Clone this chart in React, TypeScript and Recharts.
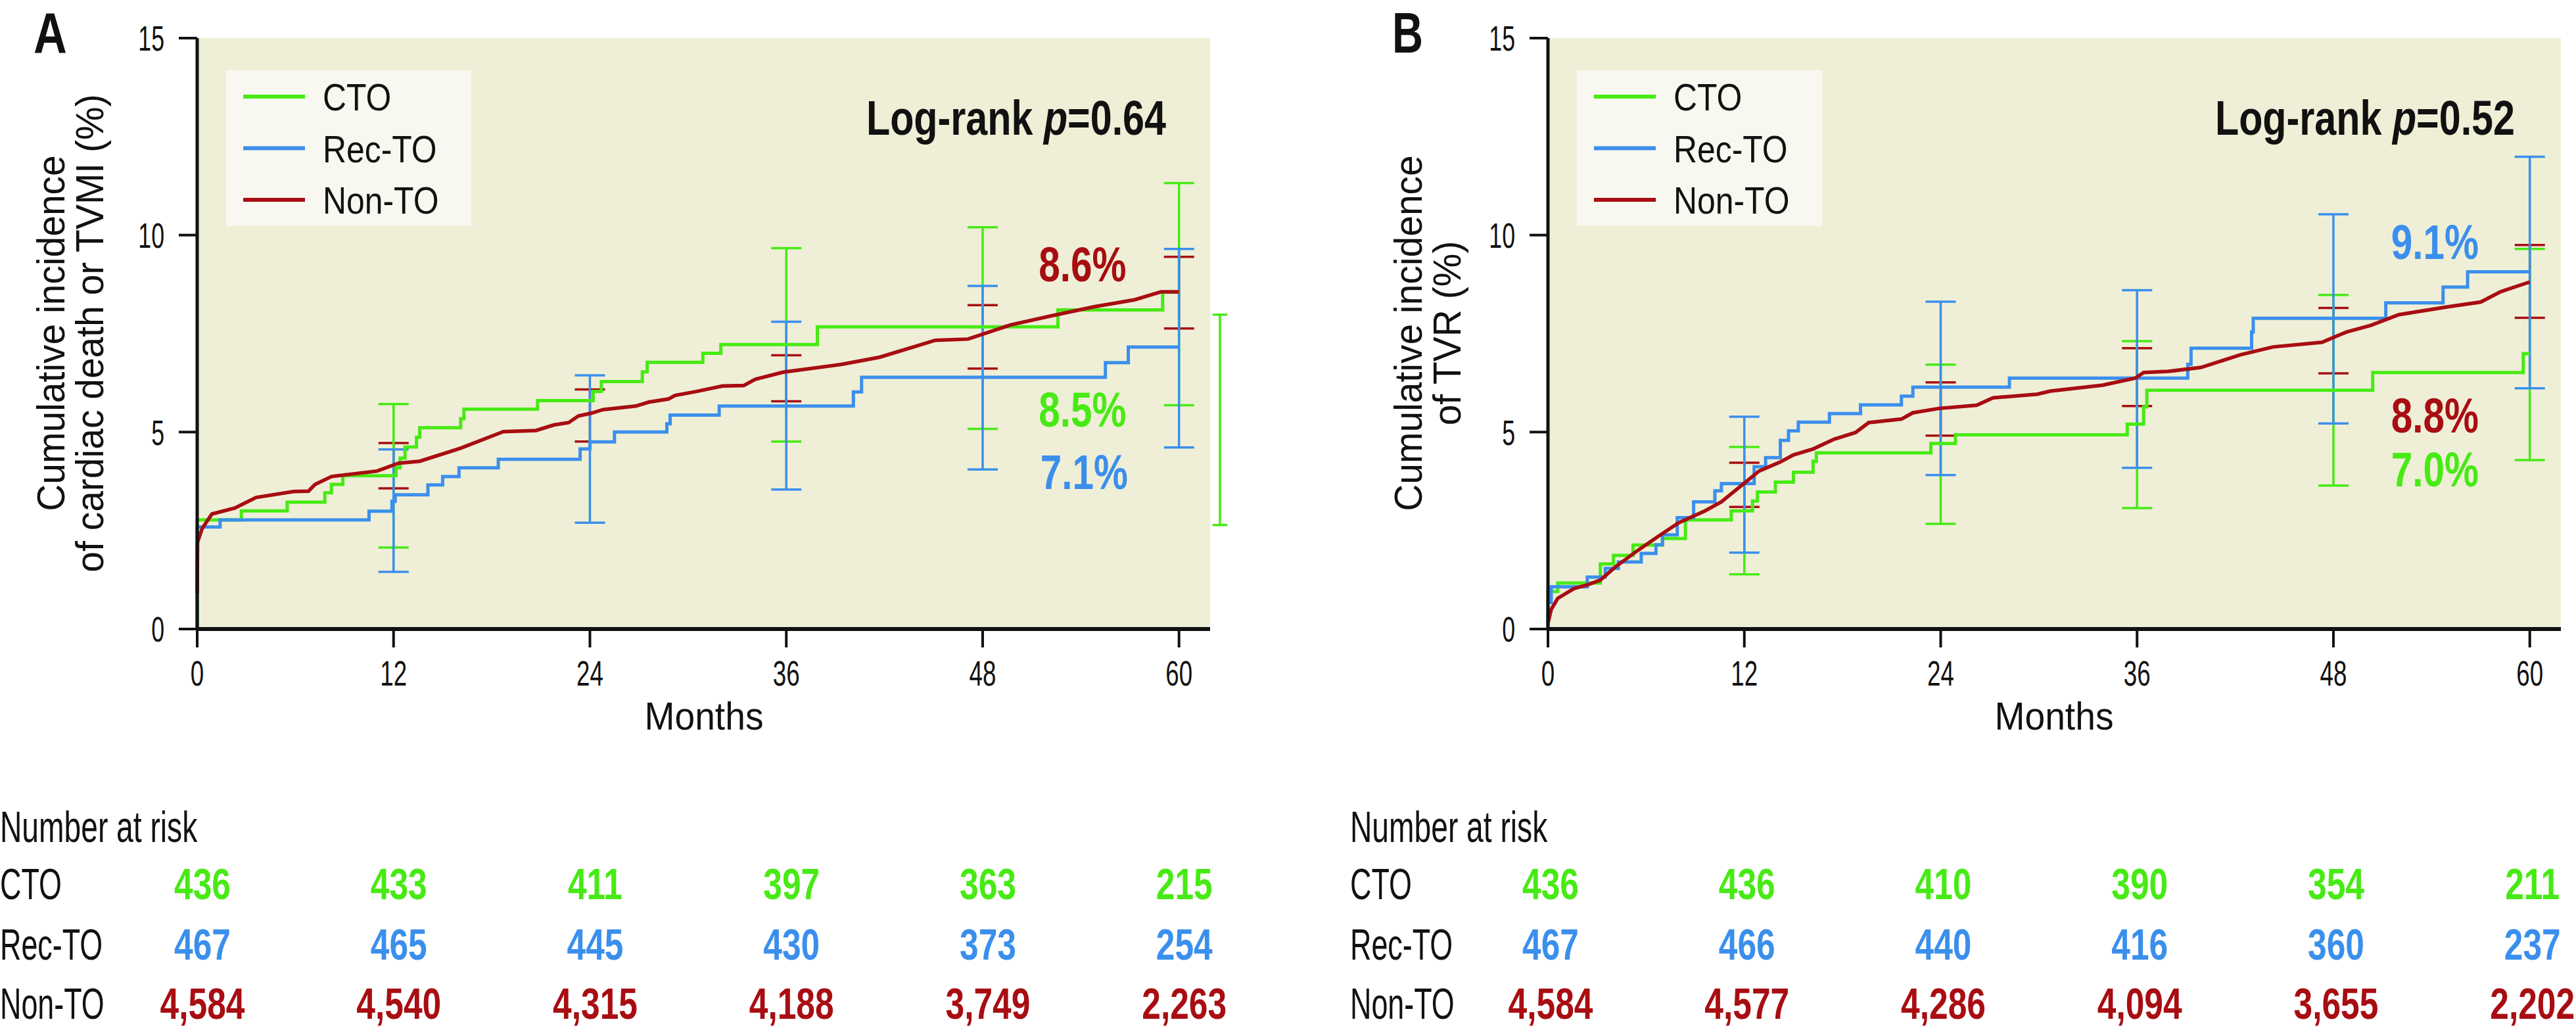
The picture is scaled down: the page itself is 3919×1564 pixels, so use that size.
import { ComposedChart, Line, Scatter, ErrorBar, XAxis, YAxis, CartesianGrid, ReferenceDot, ReferenceLine } from 'recharts'

// no condensed face is installed, so Liberation Sans gets squeezed horizontally
const FONT = "'Liberation Sans', Arial, sans-serif"
const INK = '#111111'

const MONTH_TICKS = [0, 12, 24, 36, 48, 60]
const PCT_TICKS = [0, 5, 10, 15]
const GROUPS = ['CTO', 'Rec-TO', 'Non-TO']
const GROUP_COLORS = ['#47ea14', '#3b8fec', '#a80d12']
const X_MAX = 61.9

// ---- panel A: cardiac death or TVMI ----
const ctoA: [number, number][] = [
  [0, 0], [0, 2.77], [2.7, 3.0], [5.5, 3.22], [7.8, 3.46], [8.2, 3.67], [8.9, 3.89], [12.15, 4.09],
  [12.4, 4.34], [12.7, 4.62], [13.4, 4.87], [13.6, 5.11], [16.1, 5.34], [16.3, 5.58], [20.8, 5.8],
  [24.2, 6.03], [24.7, 6.28], [27.2, 6.53], [27.5, 6.77], [30.9, 7.0], [32.0, 7.22], [37.9, 7.67],
  [52.6, 8.1], [59.0, 8.55], [60, 8.55],
]
const recA: [number, number][] = [
  [0, 0], [0, 2.59], [1.4, 2.77], [10.5, 2.99], [11.9, 3.24], [12.1, 3.41], [14.1, 3.66], [15.0, 3.87],
  [16.0, 4.09], [18.4, 4.31], [23.4, 4.57], [24.0, 4.75], [25.5, 5.0], [28.7, 5.21], [28.9, 5.43],
  [31.9, 5.66], [40.1, 6.02], [40.6, 6.39], [55.5, 6.76], [56.9, 7.16], [60, 7.16],
]
const nonA: [number, number][] = [
  [0, 0.9], [0.02, 2.2], [0.3, 2.55], [0.9, 2.92], [2.3, 3.07], [3.6, 3.34], [5.9, 3.49], [6.8, 3.5],
  [7.2, 3.67], [8.2, 3.87], [11.0, 4.01], [12.3, 4.21], [13.6, 4.26], [16.1, 4.59], [18.7, 5.01],
  [20.7, 5.04], [21.8, 5.18], [22.7, 5.24], [23.3, 5.41], [24.1, 5.48], [24.8, 5.57], [26.8, 5.66],
  [27.6, 5.76], [28.8, 5.84], [29.2, 5.93], [30.5, 6.03], [32.1, 6.17], [33.4, 6.18], [34.1, 6.34],
  [35.8, 6.52], [39.4, 6.72], [41.7, 6.9], [44.0, 7.19], [45.1, 7.33], [47.1, 7.36], [49.7, 7.72],
  [52.2, 7.95], [54.8, 8.18], [57.3, 8.36], [58.9, 8.56], [60, 8.56],
]
// confidence bars: [month, lower, upper]
const ctoCiA: [number, number, number][] = [[12, 2.07, 5.71], [36, 4.76, 9.67], [48, 5.08, 10.2], [60, 5.68, 11.32]]
const recCiA: [number, number, number][] = [[12, 1.45, 4.56], [24, 2.7, 6.44], [36, 3.54, 7.8], [48, 4.05, 8.71], [60, 4.61, 9.65]]
const nonCiA: [number, number, number][] = [[12, 3.57, 4.72], [24, 4.76, 6.08], [36, 5.78, 6.95], [48, 6.61, 8.22], [60, 7.63, 9.45]]
// the lone green bar that sits right of the plot area
const strayCiA: [number, number, number] = [62.5, 2.64, 7.98]
const riskCtoA = [436, 433, 411, 397, 363, 215]
const riskRecA = [467, 465, 445, 430, 373, 254]
const riskNonA = [4584, 4540, 4315, 4188, 3749, 2263]
const finalPctA = ['8.5%', '7.1%', '8.6%']
const finalPctPosA: [number, number][] = [[54.1, 5.14], [54.2, 3.56], [54.1, 8.83]]

// ---- panel B: TVR ----
const ctoB: [number, number][] = [
  [0, 0], [0, 0.95], [0.6, 1.17], [3.2, 1.65], [4.0, 1.87], [5.2, 2.13], [7.0, 2.3], [8.4, 2.77],
  [11.2, 3.0], [12.5, 3.25], [12.8, 3.48], [13.9, 3.73], [15.0, 3.98], [16.2, 4.26], [16.4, 4.47],
  [23.4, 4.71], [24.9, 4.93], [35.4, 5.2], [36.4, 5.64], [36.6, 6.06], [50.4, 6.51], [59.6, 6.99], [60, 6.99],
]
const recB: [number, number][] = [
  [0, 0], [0, 0.67], [0.2, 1.07], [2.4, 1.32], [3.5, 1.54], [4.3, 1.7], [5.7, 1.92], [6.6, 2.14],
  [7.0, 2.39], [7.9, 2.83], [8.9, 3.23], [10.2, 3.51], [10.6, 3.69], [12.6, 4.12], [13.3, 4.35],
  [14.2, 4.79], [14.7, 5.03], [15.3, 5.25], [17.2, 5.47], [19.1, 5.69], [21.6, 5.91], [22.3, 6.14],
  [28.2, 6.37], [39.1, 6.72], [39.3, 7.13], [43.0, 7.54], [43.1, 7.89], [51.2, 8.28], [54.7, 8.68],
  [56.2, 9.07], [60, 9.07],
]
const nonB: [number, number][] = [
  [0, 0.15], [0.2, 0.5], [0.6, 0.78], [1.6, 1.03], [2.4, 1.12], [3.2, 1.24], [4.1, 1.57], [5.5, 2.0],
  [6.8, 2.37], [8.0, 2.7], [9.6, 3.0], [10.6, 3.23], [11.9, 3.67], [12.9, 4.01], [14.2, 4.24],
  [15.0, 4.42], [16.2, 4.57], [17.5, 4.82], [18.8, 4.99], [19.6, 5.24], [21.6, 5.33], [22.3, 5.49],
  [23.9, 5.6], [26.2, 5.68], [27.2, 5.87], [29.9, 5.96], [30.7, 6.04], [33.9, 6.19], [35.9, 6.37],
  [36.4, 6.51], [37.9, 6.54], [39.9, 6.64], [41.4, 6.84], [42.3, 6.96], [44.3, 7.16], [47.3, 7.28],
  [48.8, 7.54], [50.3, 7.71], [52.0, 7.98], [55.0, 8.18], [57.0, 8.3], [58.2, 8.56], [60, 8.81],
]
const ctoCiB: [number, number, number][] = [[12, 1.39, 4.62], [24, 2.67, 6.71], [36, 3.07, 7.31], [48, 3.64, 8.48], [60, 4.29, 9.65]]
const recCiB: [number, number, number][] = [[12, 1.94, 5.39], [24, 3.91, 8.31], [36, 4.09, 8.6], [48, 5.22, 10.53], [60, 6.11, 11.99]]
const nonCiB: [number, number, number][] = [[12, 3.1, 4.22], [24, 4.91, 6.26], [36, 5.66, 7.13], [48, 6.49, 8.15], [60, 7.9, 9.75]]
const riskCtoB = [436, 436, 410, 390, 354, 211]
const riskRecB = [467, 466, 440, 416, 360, 237]
const riskNonB = [4584, 4577, 4286, 4094, 3655, 2202]
const finalPctB = ['7.0%', '9.1%', '8.8%']
const finalPctPosB: [number, number][] = [[54.2, 3.62], [54.2, 9.4], [54.2, 4.99]]

const RISK_BASELINES = [1368, 1460, 1550]

const toPts = (rows: [number, number][]) => rows.map(([m, v]) => ({ m, v }))
const toCi = (rows: [number, number, number][]) =>
  rows.map(([m, lo, hi]) => ({ m, mid: (lo + hi) / 2, half: (hi - lo) / 2 }))

// squeezed svg text
function SText({ x, y, sx = 1, anchor = 'start', size, bold, fill = INK, dy, children }: any) {
  return (
    <g transform={`translate(${x},${y}) scale(${sx},1)`}>
      <text x={0} y={0} dy={dy} textAnchor={anchor} fontFamily={FONT} fontSize={size}
        fontWeight={bold ? 'bold' : 'normal'} fill={fill}>
        {children}
      </text>
    </g>
  )
}

const makeXTick = (risk: number[][], shift: number) => (props: any) => {
  const { x, y, payload } = props
  const i = MONTH_TICKS.indexOf(payload.value)
  return (
    <g>
      <SText x={x} y={y} dy="0.71em" anchor="middle" size={54} sx={0.68}>{payload.value}</SText>
      {risk.map((row, r) => (
        <SText key={r} x={x + shift} y={RISK_BASELINES[r]} anchor="middle" size={66} sx={0.78} bold
          fill={GROUP_COLORS[r]}>
          {row[i].toLocaleString('en-US')}
        </SText>
      ))}
    </g>
  )
}

const yTick = (props: any) => (
  <SText x={props.x} y={props.y} dy="0.355em" anchor="end" size={54} sx={0.66}>{props.payload.value}</SText>
)

const pctLabel = (text: string, color: string) => (props: any) => {
  const vb = props.viewBox || {}
  return <SText x={vb.x} y={vb.y} anchor="middle" size={74} sx={0.79} bold fill={color}>{text}</SText>
}

function Panel({ left, width, rightMargin, lines, cis, risk, riskShift, pcts, pctPos, stray }: any) {
  return (
    <div style={{ position: 'absolute', left, top: 0 }}>
      <ComposedChart width={width} height={1564} margin={{ top: 58, right: rightMargin, left: 0, bottom: 547 }}>
        <CartesianGrid fill="#efefd7" fillOpacity={1} horizontal={false} vertical={false} stroke="none" />
        <XAxis type="number" dataKey="m" domain={[0, X_MAX]} ticks={MONTH_TICKS} interval={0} height={60}
          axisLine={{ stroke: INK, strokeWidth: 6 }} tickLine={{ stroke: INK, strokeWidth: 4 }}
          tickSize={28} tickMargin={20} tick={makeXTick(risk, riskShift)} />
        <YAxis type="number" domain={[0, 15]} ticks={PCT_TICKS} interval={0} width={300}
          axisLine={{ stroke: INK, strokeWidth: 5 }} tickLine={{ stroke: INK, strokeWidth: 4 }}
          tickSize={28} tickMargin={22} tick={yTick} />
        {[2, 0, 1].map((g) => (
          <Scatter key={'ci' + g} data={toCi(cis[g])} dataKey="mid" shape={() => <g />}
            isAnimationActive={false} legendType="none">
            <ErrorBar dataKey="half" direction="y" width={23} strokeWidth={3.5} stroke={GROUP_COLORS[g]}
              isAnimationActive={false} />
          </Scatter>
        ))}
        {stray && (
          <ReferenceLine ifOverflow="visible" stroke={GROUP_COLORS[0]} strokeWidth={3.5}
            segment={[{ x: stray[0], y: stray[1] }, { x: stray[0], y: stray[2] }]} />
        )}
        {stray && [stray[1], stray[2]].map((v: number) => (
          <ReferenceLine key={'cap' + v} ifOverflow="visible" stroke={GROUP_COLORS[0]} strokeWidth={3.5}
            segment={[{ x: stray[0] - 0.45, y: v }, { x: stray[0] + 0.45, y: v }]} />
        ))}
        {[0, 1, 2].map((g) => (
          <Line key={GROUPS[g]} data={toPts(lines[g])} dataKey="v" type={g === 2 ? 'linear' : 'stepAfter'}
            stroke={GROUP_COLORS[g]} strokeWidth={g === 2 ? 5.5 : 5} dot={false} isAnimationActive={false} />
        ))}
        {pcts.map((t: string, g: number) => (
          <ReferenceDot key={t} x={pctPos[g][0]} y={pctPos[g][1]} r={0} fill="none" stroke="none"
            label={pctLabel(t, GROUP_COLORS[g])} />
        ))}
      </ComposedChart>
    </div>
  )
}

function Overlay() {
  const legend = (x: number, y: number) => (
    <g>
      <rect x={x} y={y} width={373} height={237} fill="#f8f8f0" />
      {GROUPS.map((g, i) => (
        <g key={g}>
          <line x1={x + 26} x2={x + 120} y1={y + 40 + i * 78.5} y2={y + 40 + i * 78.5}
            stroke={GROUP_COLORS[i]} strokeWidth={6} />
          <SText x={x + 147} y={y + 61 + i * 78.5} size={58} sx={0.86}>{g}</SText>
        </g>
      ))}
    </g>
  )
  const yLabel = (x1: number, x2: number, l1: string, l2: string) => (
    <g>
      <g transform={`translate(${x1},507) rotate(-90) scale(0.95,1)`}>
        <text textAnchor="middle" fontFamily={FONT} fontSize={60} fill={INK}>{l1}</text>
      </g>
      <g transform={`translate(${x2},507) rotate(-90) scale(0.95,1)`}>
        <text textAnchor="middle" fontFamily={FONT} fontSize={60} fill={INK}>{l2}</text>
      </g>
    </g>
  )
  const logRank = (x: number, p: string) => (
    <g transform={`translate(${x},205) scale(0.79,1)`}>
      <text x={0} y={0} textAnchor="end" fontFamily={FONT} fontWeight="bold" fontSize={75} fill={INK}>
        Log-rank <tspan fontStyle="italic">p</tspan>={p}
      </text>
    </g>
  )
  const risk = (x: number) => (
    <g>
      <SText x={x} y={1281} size={66} sx={0.7}>Number at risk</SText>
      {GROUPS.map((g, i) => <SText key={g} x={x} y={RISK_BASELINES[i]} size={66} sx={0.68}>{g}</SText>)}
    </g>
  )
  return (
    <svg width={3919} height={1564} style={{ position: 'absolute', left: 0, top: 0 }}>
      <SText x={51} y={80} size={88} sx={0.8} bold>A</SText>
      <SText x={2118} y={80} size={88} sx={0.74} bold>B</SText>
      {yLabel(98, 157, 'Cumulative incidence', 'of cardiac death or TVMI (%)')}
      {yLabel(2163, 2222, 'Cumulative incidence', 'of TVR (%)')}
      {legend(344, 107)}
      {legend(2399, 107)}
      {logRank(1774, '0.64')}
      {logRank(3826, '0.52')}
      <SText x={1071} y={1110} anchor="middle" size={60} sx={0.92}>Months</SText>
      <SText x={3125} y={1110} anchor="middle" size={60} sx={0.92}>Months</SText>
      {risk(0)}
      {risk(2054)}
    </svg>
  )
}

export default function App() {
  return (
    <div style={{ position: 'absolute', left: 0, top: 0, width: 3919, height: 1564, background: '#fff', overflow: 'hidden' }}>
      <Panel left={0} width={1960} rightMargin={119} lines={[ctoA, recA, nonA]} cis={[ctoCiA, recCiA, nonCiA]}
        risk={[riskCtoA, riskRecA, riskNonA]} riskShift={8} pcts={finalPctA} pctPos={finalPctPosA} stray={strayCiA} />
      <Panel left={2055} width={1864} rightMargin={23} lines={[ctoB, recB, nonB]} cis={[ctoCiB, recCiB, nonCiB]}
        risk={[riskCtoB, riskRecB, riskNonB]} riskShift={4} pcts={finalPctB} pctPos={finalPctPosB} />
      <Overlay />
    </div>
  )
}
